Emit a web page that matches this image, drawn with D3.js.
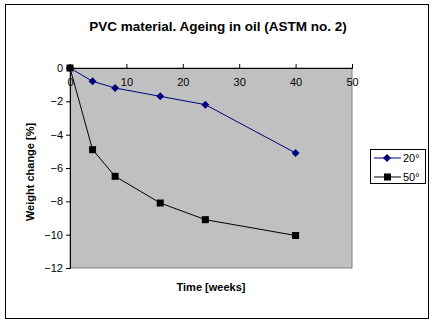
<!DOCTYPE html>
<html><head><meta charset="utf-8">
<script src="https://cdn.jsdelivr.net/npm/d3@7"></script>
<style>body{margin:0;background:#fff}svg{display:block;font-family:Arial,"Liberation Sans",sans-serif}</style>
</head><body><svg id="c" width="435" height="325"></svg>
<script>
const weeks = [0, 4, 8, 16, 24, 40];
const series20 = [0, -0.8, -1.2, -1.7, -2.2, -5.1];
const series50 = [0, -4.9, -6.5, -8.1, -9.1, -10.05];
const seriesNames = ["20°", "50°"];
const xTicks = [0, 10, 20, 30, 40, 50];
const yTicks = [0, -2, -4, -6, -8, -10, -12];

const svg = d3.select("#c");
svg.append("rect").attr("x",5.5).attr("y",4.5).attr("width",423).attr("height",314)
  .attr("fill","#fff").attr("stroke","#000").attr("stroke-width",1);

const x = d3.scaleLinear().domain([0,50]).range([70,352]);
const y = d3.scaleLinear().domain([-12,0]).range([268,68]);

svg.append("rect").attr("x",x(0)).attr("y",y(0)).attr("width",x(50)-x(0)).attr("height",y(-12)-y(0))
  .attr("fill","#c0c0c0").attr("stroke","#808080");

// y axis
const ya = svg.append("g").attr("transform",`translate(${x(0)},0)`)
  .call(d3.axisLeft(y).tickValues(yTicks).tickSize(4).tickPadding(3).tickFormat(d3.format("d")));
ya.select(".domain").attr("stroke","#000");
ya.selectAll("text").attr("font-size",11).attr("font-family","Arial,'Liberation Sans',sans-serif").attr("fill","#000");

// x axis at y=0
const xa = svg.append("g").attr("transform",`translate(0,${y(0)})`)
  .call(d3.axisTop(x).tickValues(xTicks).tickSize(4).tickFormat(d3.format("d")));
xa.select(".domain").attr("stroke","#000");
xa.selectAll("text").attr("font-size",11).attr("font-family","Arial,'Liberation Sans',sans-serif").attr("fill","#000")
  .attr("y",10).attr("dy","0.71em");

const line = d3.line().x((d,i)=>x(weeks[i])).y(d=>y(d));
const colors = ["#000080","#000000"];
[series20, series50].forEach((s,k)=>{
  svg.append("path").datum(s).attr("d",line).attr("fill","none").attr("stroke",colors[k]).attr("stroke-width",1);
});
// markers
svg.selectAll(".dia").data(series20).enter().append("path")
  .attr("d", d3.symbol().type(d3.symbolDiamond2).size(40))
  .attr("transform",(d,i)=>`translate(${x(weeks[i])},${y(d)})`).attr("fill","#000080");
svg.selectAll(".sq").data(series50).enter().append("rect")
  .attr("x",(d,i)=>x(weeks[i])-3.5).attr("y",d=>y(d)-3.5).attr("width",7).attr("height",7).attr("fill","#000");

// titles
svg.append("text").attr("x",218).attr("y",31).attr("text-anchor","middle").attr("font-size",13.5).attr("font-weight","bold").text("PVC material. Ageing in oil (ASTM no. 2)");
svg.append("text").attr("x",211).attr("y",291).attr("text-anchor","middle").attr("font-size",11).attr("font-weight","bold").text("Time [weeks]");
svg.append("text").attr("transform","translate(34,172) rotate(-90)").attr("text-anchor","middle").attr("font-size",11).attr("font-weight","bold").text("Weight change [%]");

// legend
const lg = svg.append("g");
lg.append("rect").attr("x",370.5).attr("y",149.5).attr("width",55).attr("height",34).attr("fill","#fff").attr("stroke","#000");
seriesNames.forEach((n,k)=>{
  const yy = 158 + k*19;
  lg.append("line").attr("x1",374).attr("x2",401).attr("y1",yy).attr("y2",yy).attr("stroke",colors[k]);
  if(k===0) lg.append("path").attr("d",d3.symbol().type(d3.symbolDiamond2).size(40)).attr("transform",`translate(387,${yy})`).attr("fill",colors[k]);
  else lg.append("rect").attr("x",384).attr("y",yy-3.5).attr("width",7).attr("height",7).attr("fill",colors[k]);
  lg.append("text").attr("x",403).attr("y",yy+4).attr("font-size",11).text(n);
});
</script></body></html>
